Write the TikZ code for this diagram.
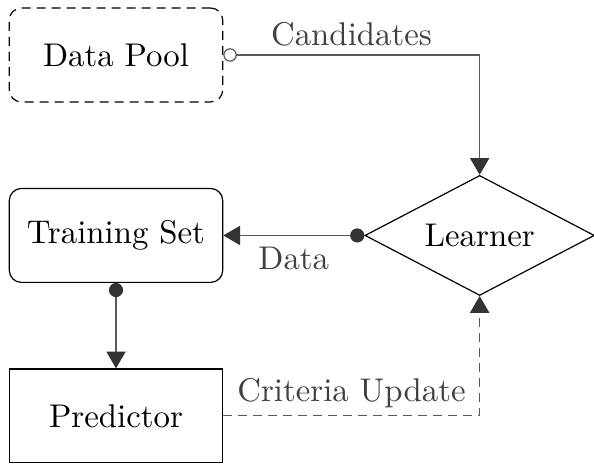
\documentclass[11pt,tikz,border=0pt]{standalone}
\usetikzlibrary{positioning,shapes.geometric,arrows.meta}

\begin{document}
\begin{tikzpicture}[node distance=1cm,
		>={Triangle[length=5.6pt,width=6.4pt,color=black!80]},
		block/.style={rectangle, draw, minimum width=2.5cm, minimum height=1.1cm},
		pool/.style={block, rounded corners, dash pattern=on 3pt off 2pt},
		decision/.style={diamond, draw, aspect=2, minimum width=76.5pt, minimum height=40pt, inner sep=0.5pt},
		link/.style={draw=black!65},
		tag/.style={text=black!75}]

	\useasboundingbox (-38.67pt,18.33pt) rectangle (159.33pt,-136.33pt);

	\node[pool] (P) {Data Pool};
	\node[block, rounded corners, below=of P] (T) {Training Set};
	\node[block, below=of T] (M) {Predictor};
	\node[decision, right=47pt of T] (L) {Learner};

	\draw[link, {Circle[open,length=4.5pt]}->] (P) -| node[tag, above=-1pt, pos=0.25] {Candidates} (L);
	\draw[link, {Circle[length=4.7pt,color=black!80]}->] (L) -- node[tag, below] {Data} (T);
	\draw[link, {Circle[length=4.7pt,color=black!80]}->] (T) -- (M);
	\draw[link, dash pattern=on 3pt off 2pt, ->] (M) -| node[tag, above=-1.2pt, pos=0.25] {Criteria Update} (L);
\end{tikzpicture}
\end{document}
